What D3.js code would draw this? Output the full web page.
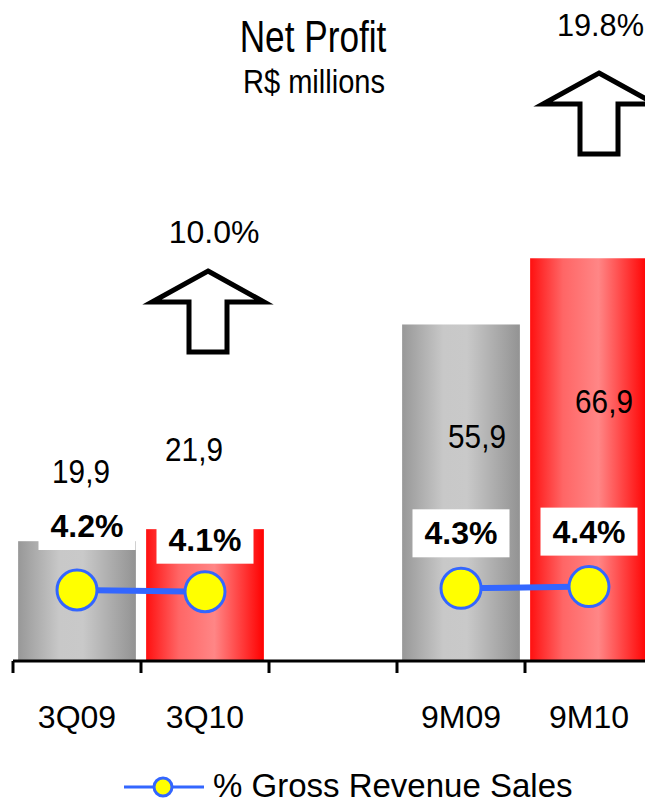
<!DOCTYPE html>
<html>
<head>
<meta charset="utf-8">
<script src="https://cdn.jsdelivr.net/npm/d3@7"></script>
<style>
  html, body { margin: 0; padding: 0; background: #fff; overflow: hidden; }
  svg { display: block; font-family: "Liberation Sans", Arial, sans-serif; }
</style>
</head>
<body>
<svg id="chart" width="645" height="803"></svg>
<script>
// ---------- data ----------
const categories = ["3Q09", "3Q10", "", "9M09", "9M10"];
const netProfit = [19.9, 21.9, null, 55.9, 66.9];
const netProfitLabels = ["19,9", "21,9", "", "55,9", "66,9"];
const grossRevenuePct = [4.2, 4.1, null, 4.3, 4.4];
const growthPct = [10.0, 19.8];
const growthCategory = ["3Q10", "9M10"];
const barColorKind = ["gray", "red", null, "gray", "red"];
const titleText = "Net Profit";
const subtitleText = "R$ millions";
const legendText = "% Gross Revenue Sales";

// ---------- layout ----------
const svg = d3.select("#chart");
const baseY = 661;
const x = d3.scaleBand().domain(categories.map((c, i) => i)).range([13, 653])
  .paddingInner(0.08).paddingOuter(0.04);
const step = x.step();
const y = d3.scaleLinear().domain([0, 110]).range([baseY, baseY - 110 * 6.02]);
const y2 = d3.scaleLinear().domain([0, 39.1]).range([baseY, 0]);
const cx = i => x(i) + x.bandwidth() / 2;

// gradients
const defs = svg.append("defs");
const gGray = defs.append("linearGradient").attr("id", "gray").attr("x1", "0").attr("x2", "1").attr("y1", "0").attr("y2", "0");
[["0%", "#989898"], ["35%", "#c8c8c8"], ["55%", "#c9c9c9"], ["100%", "#939393"]]
  .forEach(s => gGray.append("stop").attr("offset", s[0]).attr("stop-color", s[1]));
const gRed = defs.append("linearGradient").attr("id", "red").attr("x1", "0").attr("x2", "1").attr("y1", "0").attr("y2", "0");
[["0%", "#ff1010"], ["28%", "#ff6666"], ["58%", "#ff8686"], ["100%", "#ff0000"]]
  .forEach(s => gRed.append("stop").attr("offset", s[0]).attr("stop-color", s[1]));

// helper for text with horizontal scaling
function txt(g, str, tx, ty, opts) {
  opts = opts || {};
  return g.append("text")
    .attr("transform", `translate(${tx},${ty}) scale(${opts.sx || 1},1)`)
    .attr("text-anchor", opts.anchor || "middle")
    .attr("font-size", opts.size || 32)
    .attr("font-weight", opts.weight || "normal")
    .attr("fill", "#000")
    .text(str);
}

// ---------- title ----------
txt(svg, titleText, 313, 52, { size: 44, sx: 0.80 });
txt(svg, subtitleText, 314, 93, { size: 34, sx: 0.855 });

// ---------- bars ----------
const idx = categories.map((c, i) => i).filter(i => netProfit[i] != null);
svg.append("g").selectAll("rect").data(idx).join("rect")
  .attr("x", i => x(i))
  .attr("width", x.bandwidth())
  .attr("y", i => y(netProfit[i]))
  .attr("height", i => baseY - y(netProfit[i]))
  .attr("fill", i => `url(#${barColorKind[i]})`);

// value labels (manually placed offsets as in the source slide)
const valueOffset = [[4, 178], [-11, 200], null, [16, 213], [15, 248]];
idx.forEach(i => {
  txt(svg, netProfitLabels[i], cx(i) + valueOffset[i][0], baseY - valueOffset[i][1], { size: 33, sx: 0.9 });
});

// ---------- axis ----------
const axisG = svg.append("g");
axisG.append("line").attr("x1", 13).attr("x2", 660).attr("y1", baseY).attr("y2", baseY)
  .attr("stroke", "#000").attr("stroke-width", 3);
d3.range(categories.length + 1).forEach(k => {
  const tx = 13 + k * step;
  axisG.append("line").attr("x1", tx).attr("x2", tx).attr("y1", baseY).attr("y2", baseY + 12)
    .attr("stroke", "#000").attr("stroke-width", 3);
});
categories.forEach((c, i) => { if (c) txt(svg, c, cx(i), 728, { size: 32 }); });

// ---------- % gross revenue line ----------
const lineG = svg.append("g");
const line = d3.line().defined(d => d.v != null).x(d => cx(d.i)).y(d => y2(d.v));
const pts = grossRevenuePct.map((v, i) => ({ i, v }));
lineG.append("path").attr("d", line(pts)).attr("fill", "none")
  .attr("stroke", "#3366ff").attr("stroke-width", 6);

// labels with white boxes
const pctOffset = [[10, -12], [0, 0], null, [0, -3], [0, -3]];
pts.filter(d => d.v != null).forEach(d => {
  const bx = cx(d.i) + pctOffset[d.i][0];
  const by = y2(d.v) - 52 + pctOffset[d.i][1];
  lineG.append("rect").attr("x", bx - 48.5).attr("y", by - 24).attr("width", 97).attr("height", 48).attr("fill", "#fff");
  txt(lineG, d.v.toFixed(1) + "%", bx, by + 11, { size: 32, weight: "bold" });
});

lineG.selectAll("circle").data(pts.filter(d => d.v != null)).join("circle")
  .attr("cx", d => cx(d.i)).attr("cy", d => y2(d.v)).attr("r", 20)
  .attr("fill", "#ffff00").attr("stroke", "#3366ff").attr("stroke-width", 3);

// ---------- growth arrows ----------
const arrowPos = [{ dx: 3, tip: 271 }, { dx: 10, tip: 73 }];
growthCategory.forEach((c, k) => {
  const i = categories.indexOf(c);
  const ax = cx(i) + arrowPos[k].dx;
  const t = arrowPos[k].tip;
  const pth = d3.path();
  pth.moveTo(ax, t);
  pth.lineTo(ax + 56, t + 31);
  pth.lineTo(ax + 19, t + 31);
  pth.lineTo(ax + 19, t + 81);
  pth.lineTo(ax - 19, t + 81);
  pth.lineTo(ax - 19, t + 31);
  pth.lineTo(ax - 56, t + 31);
  pth.closePath();
  svg.append("path").attr("d", pth.toString()).attr("fill", "#fff")
    .attr("stroke", "#000").attr("stroke-width", 5).attr("stroke-linejoin", "miter");
  const label = growthPct[k].toFixed(1) + "%";
  if (k === 0) txt(svg, label, ax + 6, t - 28, { size: 32 });
  else txt(svg, label, 644, t - 37, { size: 32, sx: 0.96, anchor: "end" });
});

// ---------- legend ----------
const lg = svg.append("g");
lg.append("line").attr("x1", 124).attr("x2", 204).attr("y1", 787).attr("y2", 787)
  .attr("stroke", "#3366ff").attr("stroke-width", 3);
lg.append("circle").attr("cx", 163).attr("cy", 787).attr("r", 9)
  .attr("fill", "#ffff00").attr("stroke", "#3366ff").attr("stroke-width", 3);
txt(lg, legendText, 213, 797, { size: 33, anchor: "start" });
</script>
</body>
</html>
